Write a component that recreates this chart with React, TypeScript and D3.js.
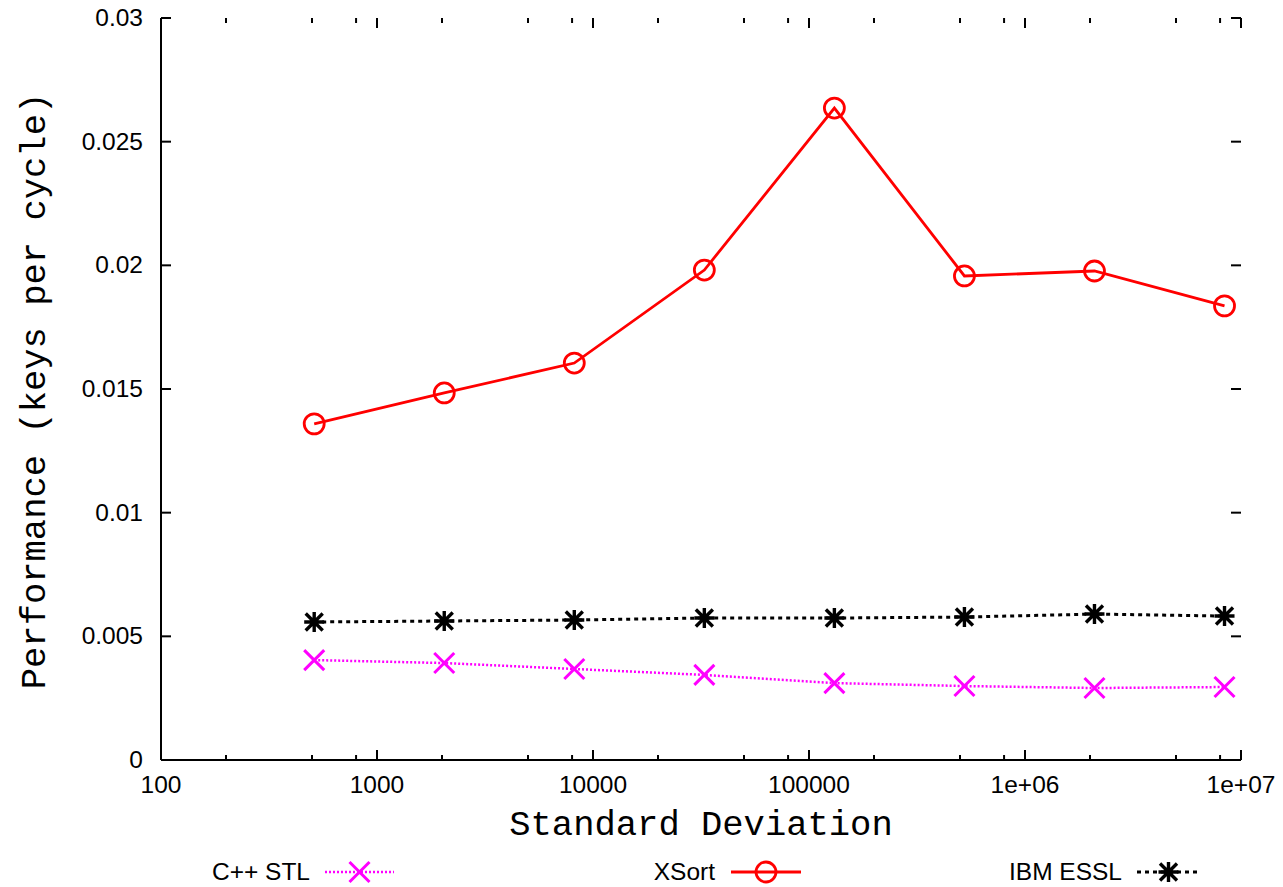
import React, { useEffect, useRef } from "react";
import * as d3 from "d3";

// Standard deviation of the input keys (x, log scale)
const deviations = [512, 2048, 8192, 32768, 131072, 524288, 2097152, 8388608];

// Performance in keys per cycle for each sorter
const stlValues = [0.00404, 0.00392, 0.00368, 0.00344, 0.00311, 0.00299, 0.00291, 0.00295];
const xsortValues = [0.01359, 0.01484, 0.01605, 0.01981, 0.02636, 0.01957, 0.01977, 0.01836];
const esslValues = [0.00558, 0.00562, 0.00566, 0.00574, 0.00574, 0.00578, 0.0059, 0.00582];

const xTickValues = [100, 1000, 10000, 100000, 1000000, 10000000];
const xTickLabels = ["100", "1000", "10000", "100000", "1e+06", "1e+07"];
const yTickValues = [0, 0.005, 0.01, 0.015, 0.02, 0.025, 0.03];
const yTickLabels = ["0", "0.005", "0.01", "0.015", "0.02", "0.025", "0.03"];

const W = 1283;
const H = 887;
const M = { left: 161, right: 1241, top: 18, bottom: 760 };

const SANS = "'Liberation Sans', Arial, Helvetica, sans-serif";
const MONO = "'Liberation Mono', 'Courier New', monospace";

type Marker = "x" | "circle" | "star";

function drawMarker(g: d3.Selection<SVGGElement, unknown, null, undefined>, kind: Marker, cx: number, cy: number, color: string) {
  const s = 10;
  if (kind === "circle") {
    g.append("circle").attr("cx", cx).attr("cy", cy).attr("r", s)
      .attr("fill", "none").attr("stroke", color).attr("stroke-width", 2.8);
  } else if (kind === "x") {
    g.append("path")
      .attr("d", `M${cx - s},${cy - s}L${cx + s},${cy + s}M${cx - s},${cy + s}L${cx + s},${cy - s}`)
      .attr("stroke", color).attr("stroke-width", 3).attr("fill", "none");
  } else {
    const d = s * 0.85;
    g.append("path")
      .attr("d", `M${cx - s},${cy}L${cx + s},${cy}M${cx},${cy - s}L${cx},${cy + s}` +
        `M${cx - d},${cy - d}L${cx + d},${cy + d}M${cx - d},${cy + d}L${cx + d},${cy - d}`)
      .attr("stroke", color).attr("stroke-width", 3.4).attr("fill", "none");
  }
}

export default function App() {
  const ref = useRef<SVGSVGElement>(null);

  useEffect(() => {
    const svg = d3.select(ref.current!);
    svg.selectAll("*").remove();

    const x = d3.scaleLog().domain([100, 10000000]).range([M.left, M.right]);
    const y = d3.scaleLinear().domain([0, 0.03]).range([M.bottom, M.top]);

    const axes = svg.append("g").attr("stroke", "#000").attr("stroke-width", 2).attr("fill", "none");

    // main axis lines (left and bottom)
    axes.append("line").attr("x1", M.left).attr("x2", M.left).attr("y1", M.top).attr("y2", M.bottom);
    axes.append("line").attr("x1", M.left).attr("x2", M.right).attr("y1", M.bottom).attr("y2", M.bottom);

    // x ticks: majors at decades, minors at 2, 5, 8 within each decade (mirrored on top)
    const minor: number[] = [];
    for (let dec = 100; dec < 10000000; dec *= 10) {
      [2, 5, 8].forEach((m) => minor.push(dec * m));
    }
    const major = 10, minorLen = 5;
    xTickValues.forEach((v) => {
      const px = x(v);
      axes.append("line").attr("x1", px).attr("x2", px).attr("y1", M.bottom).attr("y2", M.bottom - major);
      axes.append("line").attr("x1", px).attr("x2", px).attr("y1", M.top).attr("y2", M.top + major);
    });
    minor.forEach((v) => {
      const px = x(v);
      axes.append("line").attr("x1", px).attr("x2", px).attr("y1", M.bottom).attr("y2", M.bottom - minorLen);
      axes.append("line").attr("x1", px).attr("x2", px).attr("y1", M.top).attr("y2", M.top + minorLen);
    });

    // y ticks, mirrored on the right
    yTickValues.forEach((v) => {
      const py = y(v);
      axes.append("line").attr("x1", M.left).attr("x2", M.left + major).attr("y1", py).attr("y2", py);
      axes.append("line").attr("x1", M.right).attr("x2", M.right - major).attr("y1", py).attr("y2", py);
    });

    // tick labels
    const labels = svg.append("g").attr("font-family", SANS).attr("font-size", 24.5).attr("fill", "#000");
    xTickValues.forEach((v, i) => {
      labels.append("text").attr("x", x(v)).attr("y", M.bottom + 33)
        .attr("text-anchor", "middle").text(xTickLabels[i]);
    });
    yTickValues.forEach((v, i) => {
      labels.append("text").attr("x", M.left - 18).attr("y", y(v) + 8)
        .attr("text-anchor", "end").text(yTickLabels[i]);
    });

    // axis titles
    svg.append("text").attr("x", (M.left + M.right) / 2).attr("y", 835)
      .attr("text-anchor", "middle").attr("font-family", MONO).attr("font-size", 35.5)
      .text("Standard Deviation");
    svg.append("text")
      .attr("transform", `translate(45,${(M.top + M.bottom) / 2 + 2}) rotate(-90)`)
      .attr("text-anchor", "middle").attr("font-family", MONO).attr("font-size", 35.5)
      .text("Performance (keys per cycle)");

    const series = [
      { name: "C++ STL", values: stlValues, color: "#ff00ff", marker: "x" as Marker, dash: "2,2", width: 2.5, legendEnd: 310, legendLine: [325, 394] },
      { name: "XSort", values: xsortValues, color: "#ff0000", marker: "circle" as Marker, dash: null, width: 2.8, legendEnd: 715, legendLine: [731, 801] },
      { name: "IBM ESSL", values: esslValues, color: "#000000", marker: "star" as Marker, dash: "4,4", width: 3, legendEnd: 1122, legendLine: [1137, 1200] },
    ];

    const line = d3.line<number>().x((_, i) => x(deviations[i])).y((v) => y(v));

    series.forEach((s) => {
      const g = svg.append("g");
      const p = g.append("path").attr("d", line(s.values)).attr("fill", "none")
        .attr("stroke", s.color).attr("stroke-width", s.width);
      if (s.dash) p.attr("stroke-dasharray", s.dash);
      s.values.forEach((v, i) => drawMarker(g, s.marker, x(deviations[i]), y(v), s.color));

      // legend entry
      const ly = 872;
      svg.append("text").attr("x", s.legendEnd).attr("y", ly + 8).attr("text-anchor", "end")
        .attr("font-family", SANS).attr("font-size", 24.5).text(s.name);
      const lg = svg.append("g");
      const lp = lg.append("line").attr("x1", s.legendLine[0]).attr("x2", s.legendLine[1])
        .attr("y1", ly).attr("y2", ly).attr("stroke", s.color).attr("stroke-width", s.width);
      if (s.dash) lp.attr("stroke-dasharray", s.dash);
      drawMarker(lg, s.marker, (s.legendLine[0] + s.legendLine[1]) / 2, ly, s.color);
    });
  }, []);

  return (
    <svg ref={ref} width={W} height={H}
      style={{ position: "absolute", left: 0, top: 0, background: "#fff" }} />
  );
}
